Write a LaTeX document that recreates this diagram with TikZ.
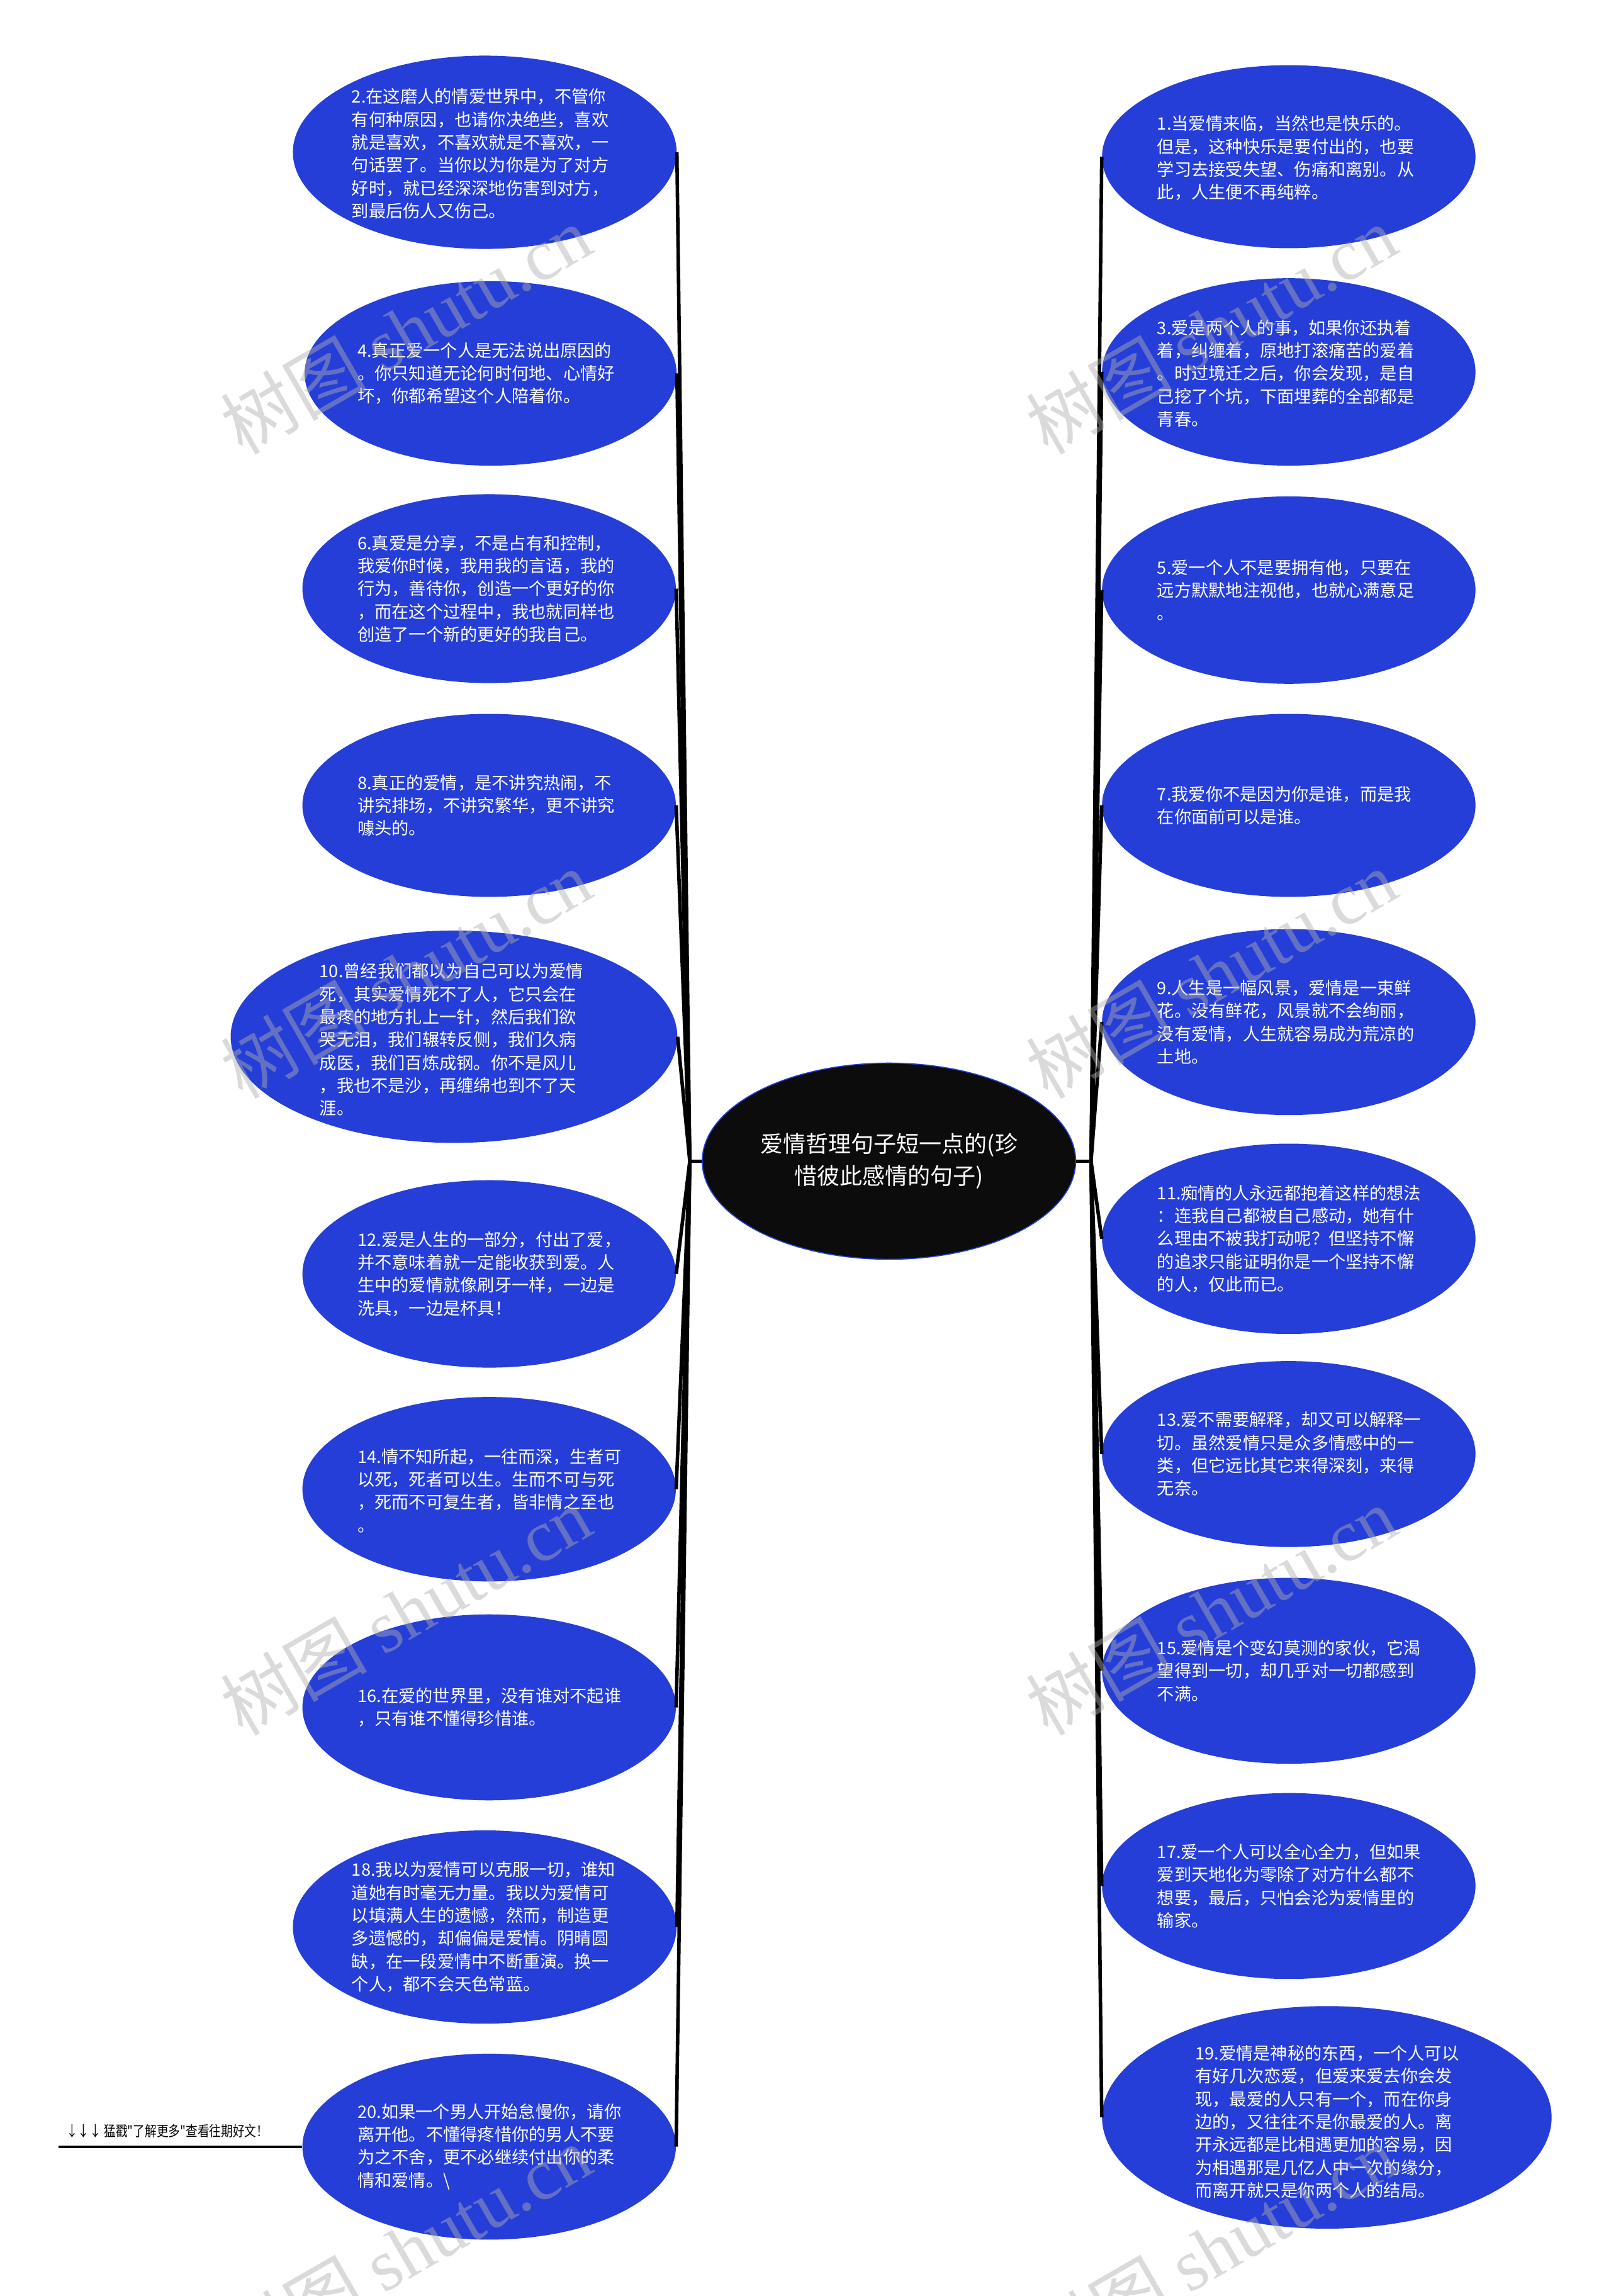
\documentclass[tikz,border=0pt]{standalone}
\usepackage{fontspec}
\setmainfont{Noto Sans CJK SC}
\newfontfamily\footfont{Noto Sans CJK SC}
\newfontfamily\wmserif{Liberation Serif}
\usetikzlibrary{shapes.geometric}
\definecolor{leafblue}{RGB}{37,62,215}
\definecolor{rootblack}{RGB}{12,12,12}
\definecolor{wmgray}{RGB}{175,175,175}
\begin{document}
\begin{tikzpicture}[x=1pt,y=-1pt,
 leaf/.style={ellipse, fill=leafblue, inner sep=0pt},
 leaftxt/.style={text=white, align=left, anchor=west, inner sep=0pt, font=\fontsize{11.7}{15.6}\selectfont},
 root/.style={ellipse, fill=rootblack, draw=leafblue, line width=0.7pt, text=white, align=center, inner sep=0pt, font=\fontsize{15.5}{22}\selectfont},
 conn/.style={line width=2.4pt, black},
 wm/.style={text=wmgray, opacity=0.45, rotate=30, inner sep=0pt, font=\fontsize{50}{50}\selectfont},
 foottxt/.style={anchor=base west, inner sep=0pt, xscale=0.82, font=\footfont\fontsize{9.8}{11}\selectfont}
]
\useasboundingbox (0,0) rectangle (1100,1568);
\clip (0,0) rectangle (1100,1568);
\fill[white] (0,0) rectangle (1100,1568);

% root
\node[root, minimum width=255, minimum height=134] (root) at (607,793) {爱情哲理句子短一点的(珍\\惜彼此感情的句子)};
\coordinate (JL) at (471,793);
\coordinate (JR) at (745,793);

% left leaves
\node[leaf, minimum width=262, minimum height=132] (n2) at (331,104) {};
\node[leaftxt] (t2) at (240,105) {2.在这磨人的情爱世界中，不管你\\有何种原因，也请你决绝些，喜欢\\就是喜欢，不喜欢就是不喜欢，一\\句话罢了。当你以为你是为了对方\\好时，就已经深深地伤害到对方，\\到最后伤人又伤己。};

\node[leaf, minimum width=254, minimum height=126] (n4) at (335,255) {};
\node[leaftxt] (t4) at (244,255) {4.真正爱一个人是无法说出原因的\\。你只知道无论何时何地、心情好\\坏，你都希望这个人陪着你。};

\node[leaf, minimum width=255, minimum height=129] (n6) at (334,402) {};
\node[leaftxt] (t6) at (244,402) {6.真爱是分享，不是占有和控制，\\我爱你时候，我用我的言语，我的\\行为，善待你，创造一个更好的你\\，而在这个过程中，我也就同样也\\创造了一个新的更好的我自己。};

\node[leaf, minimum width=255, minimum height=125] (n8) at (334,550) {};
\node[leaftxt] (t8) at (244,550) {8.真正的爱情，是不讲究热闹，不\\讲究排场，不讲究繁华，更不讲究\\噱头的。};

\node[leaf, minimum width=305, minimum height=145] (n10) at (310,708) {};
\node[leaftxt] (t10) at (218,710) {10.曾经我们都以为自己可以为爱情\\死，其实爱情死不了人，它只会在\\最疼的地方扎上一针，然后我们欲\\哭无泪，我们辗转反侧，我们久病\\成医，我们百炼成钢。你不是风儿\\，我也不是沙，再缠绵也到不了天\\涯。};

\node[leaf, minimum width=255, minimum height=128] (n12) at (334,870) {};
\node[leaftxt] (t12) at (244,870) {12.爱是人生的一部分，付出了爱，\\并不意味着就一定能收获到爱。人\\生中的爱情就像刷牙一样，一边是\\洗具，一边是杯具！};

\node[leaf, minimum width=255, minimum height=126] (n14) at (334,1017) {};
\node[leaftxt] (t14) at (244,1018) {14.情不知所起，一往而深，生者可\\以死，死者可以生。生而不可与死\\，死而不可复生者，皆非情之至也\\。};

\node[leaf, minimum width=255, minimum height=127] (n16) at (334,1166) {};
\node[leaftxt] (t16) at (244,1166) {16.在爱的世界里，没有谁对不起谁\\，只有谁不懂得珍惜谁。};

\node[leaf, minimum width=262, minimum height=132] (n18) at (331,1316) {};
\node[leaftxt] (t18) at (240,1316) {18.我以为爱情可以克服一切，谁知\\道她有时毫无力量。我以为爱情可\\以填满人生的遗憾，然而，制造更\\多遗憾的，却偏偏是爱情。阴晴圆\\缺，在一段爱情中不断重演。换一\\个人，都不会天色常蓝。};

\node[leaf, minimum width=255, minimum height=127] (n20) at (334,1466) {};
\node[leaftxt] (t20) at (244,1466) {20.如果一个男人开始怠慢你，请你\\离开他。不懂得疼惜你的男人不要\\为之不舍，更不必继续付出你的柔\\情和爱情。\textbackslash};

% right leaves
\node[leaf, minimum width=255, minimum height=125] (n1) at (880,107) {};
\node[leaftxt] (t1) at (790,108) {1.当爱情来临，当然也是快乐的。\\但是，这种快乐是要付出的，也要\\学习去接受失望、伤痛和离别。从\\此，人生便不再纯粹。};

\node[leaf, minimum width=255, minimum height=128] (n3) at (880,254) {};
\node[leaftxt] (t3) at (790,255) {3.爱是两个人的事，如果你还执着\\着，纠缠着，原地打滚痛苦的爱着\\。时过境迁之后，你会发现，是自\\己挖了个坑，下面埋葬的全部都是\\青春。};

\node[leaf, minimum width=255, minimum height=128] (n5) at (880,403) {};
\node[leaftxt] (t5) at (790,403) {5.爱一个人不是要拥有他，只要在\\远方默默地注视他，也就心满意足\\。};

\node[leaf, minimum width=255, minimum height=125] (n7) at (880,550) {};
\node[leaftxt] (t7) at (790,550) {7.我爱你不是因为你是谁，而是我\\在你面前可以是谁。};

\node[leaf, minimum width=255, minimum height=127] (n9) at (880,698) {};
\node[leaftxt] (t9) at (790,698) {9.人生是一幅风景，爱情是一束鲜\\花。没有鲜花，风景就不会绚丽，\\没有爱情，人生就容易成为荒凉的\\土地。};

\node[leaf, minimum width=255, minimum height=130] (n11) at (880,846) {};
\node[leaftxt] (t11) at (790,846) {11.痴情的人永远都抱着这样的想法\\：连我自己都被自己感动，她有什\\么理由不被我打动呢？但坚持不懈\\的追求只能证明你是一个坚持不懈\\的人，仅此而已。};

\node[leaf, minimum width=255, minimum height=127] (n13) at (880,993) {};
\node[leaftxt] (t13) at (790,993) {13.爱不需要解释，却又可以解释一\\切。虽然爱情只是众多情感中的一\\类，但它远比其它来得深刻，来得\\无奈。};

\node[leaf, minimum width=255, minimum height=127] (n15) at (880,1141) {};
\node[leaftxt] (t15) at (790,1141) {15.爱情是个变幻莫测的家伙，它渴\\望得到一切，却几乎对一切都感到\\不满。};

\node[leaf, minimum width=255, minimum height=127] (n17) at (880,1288) {};
\node[leaftxt] (t17) at (790,1288) {17.爱一个人可以全心全力，但如果\\爱到天地化为零除了对方什么都不\\想要，最后，只怕会沦为爱情里的\\输家。};

\node[leaf, minimum width=307, minimum height=152] (n19) at (906,1446) {};
\node[leaftxt] (t19) at (816,1449) {19.爱情是神秘的东西，一个人可以\\有好几次恋爱，但爱来爱去你会发\\现，最爱的人只有一个，而在你身\\边的，又往往不是你最爱的人。离\\开永远都是比相遇更加的容易，因\\为相遇那是几亿人中一次的缘分，\\而离开就只是你两个人的结局。};

% connectors
\draw[conn] (root.west) -- (JL);
\draw[conn] (root.east) -- (JR);
\foreach \n in {2,4,6,8,10,12,14,16,18,20} {\draw[conn] (JL) -- (n\n.east);}
\foreach \n in {1,3,5,7,9,11,13,15,17,19} {\draw[conn] (JR) -- (n\n.west);}

% footer
\node[foottxt] (foot) at (45,1459) {↓↓↓ 猛戳"了解更多"查看往期好文！};
\coordinate (footend) at (40,1466);
\draw[line width=1.6pt] (footend) -- (n20.west);

% watermarks
\foreach \wx/\wy in {277/225, 827/225, 277/665, 827/665, 277/1100, 827/1100, 277/1536, 827/1536} {
  \node[wm] at (\wx,\wy) {树图 {\wmserif shutu.cn}};
}
\end{tikzpicture}
\end{document}
